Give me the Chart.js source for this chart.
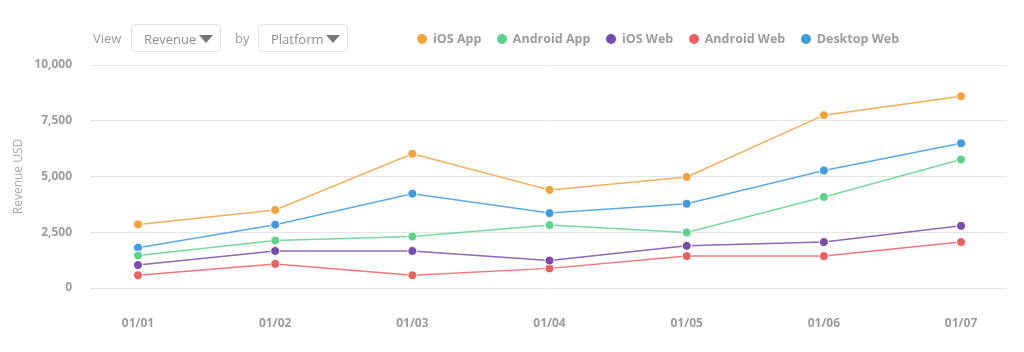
<!DOCTYPE html>
<html>
<head>
<meta charset="utf-8">
<script src="https://cdn.jsdelivr.net/npm/chart.js@4/dist/chart.umd.min.js"></script>
<style>
    html, body { margin: 0; padding: 0; background: #fff; }
    body { width: 1024px; height: 352px; position: relative; overflow: hidden; font-family: "Open Sans", sans-serif; }
    #wrap { position: absolute; left: 0; top: 0; width: 1024px; height: 352px; }
    .ctl { position: absolute; top: 24px; height: 28px; line-height: 28px; font-size: 13px; color: #9a9a9a; }
    .box { border: 1px solid #e3e3e3; border-radius: 4px; box-sizing: border-box; padding-left: 12px; color: #8e8e8e; }
    .box:after { content: ''; position: absolute; right: 7px; top: 10px; border-left: 7px solid transparent; border-right: 7px solid transparent; border-top: 8px solid #777; }
    #legend { position: absolute; top: 29px; left: 417px; font-size: 12.5px; font-weight: 700; color: #9c9c9c; white-space: nowrap; display: flex; }
    #legend span.item { display: flex; align-items: center; margin-right: 15.5px; line-height: 20px; }
    #legend i { display: inline-block; width: 10px; height: 10px; border-radius: 50%; margin-right: 6px; }
</style>
</head>
<body>
<div id="wrap"><canvas id="chart" width="1024" height="352"></canvas></div>
<div class="ctl" style="left:93px;">View</div>
<div class="ctl box" style="left:131px;width:90px;">Revenue</div>
<div class="ctl" style="left:235px;">by</div>
<div class="ctl box" style="left:258px;width:90px;">Platform</div>
<div id="legend"></div>
<script>
(function () {
    'use strict';

    var dates = ['01/01', '01/02', '01/03', '01/04', '01/05', '01/06', '01/07'];
    var seriesNames = ['iOS App', 'Android App', 'iOS Web', 'Android Web', 'Desktop Web'];
    var seriesColors = ['#f5a13c', '#5fd28a', '#7a4bae', '#ef5f5f', '#3d9be0'];

    var iosApp = [2850, 3500, 6020, 4400, 4980, 7750, 8600];
    var androidApp = [1460, 2130, 2310, 2820, 2490, 4080, 5760];
    var iosWeb = [1030, 1660, 1660, 1230, 1890, 2060, 2790];
    var androidWeb = [570, 1080, 570, 880, 1430, 1430, 2060];
    var desktopWeb = [1810, 2840, 4230, 3360, 3780, 5270, 6490];

    var yTicks = [0, 2500, 5000, 7500, 10000];

    var seriesValues = [iosApp, androidApp, iosWeb, androidWeb, desktopWeb];

    function hexAlpha(hex, a) {
        var n = parseInt(hex.slice(1), 16);
        return 'rgba(' + (n >> 16) + ',' + ((n >> 8) & 255) + ',' + (n & 255) + ',' + a + ')';
    }

    var datasets = seriesNames.map(function (name, s) {
        return {
            label: name,
            data: seriesValues[s].map(function (v, i) {
                return { x: i, y: v };
            }),
            borderColor: hexAlpha(seriesColors[s], 0.85),
            backgroundColor: seriesColors[s],
            borderWidth: 1.5,
            tension: 0,
            pointRadius: 4.5,
            pointBorderColor: '#ffffff',
            pointBorderWidth: 1,
            pointBackgroundColor: seriesColors[s],
            order: s === 4 ? 1 : 0
        };
    });

    var tickFont = { family: '"Open Sans", sans-serif', size: 12, weight: '700' };

    var chart = new Chart(document.getElementById('chart').getContext('2d'), {
        type: 'line',
        data: { datasets: datasets },
        options: {
            responsive: false,
            animation: false,
            layout: { padding: { top: 65, right: 17, left: 0, bottom: 0 } },
            plugins: {
                legend: { display: false },
                tooltip: { enabled: false }
            },
            scales: {
                x: {
                    type: 'linear',
                    min: -0.35,
                    max: 6.335,
                    afterBuildTicks: function (scale) {
                        scale.ticks = dates.map(function (d, i) { return { value: i }; });
                    },
                    afterFit: function (scale) { scale.height = 64; },
                    grid: { display: false, drawTicks: false },
                    border: { display: false },
                    ticks: {
                        padding: 28,
                        color: '#9b9b9b',
                        font: tickFont,
                        maxRotation: 0,
                        callback: function (v) { return dates[v]; }
                    }
                },
                y: {
                    min: 0,
                    max: 10000,
                    afterBuildTicks: function (scale) {
                        scale.ticks = yTicks.map(function (v) { return { value: v }; });
                    },
                    afterFit: function (scale) { scale.width = 90; },
                    grid: { color: '#e6e6e6', lineWidth: 1, drawTicks: false },
                    border: { display: false },
                    title: {
                        display: true,
                        text: 'Revenue USD',
                        color: '#a8a8a8',
                        font: { family: '"Open Sans", sans-serif', size: 12 },
                        padding: { top: 11, bottom: 0 }
                    },
                    ticks: {
                        padding: 18,
                        color: '#9b9b9b',
                        font: tickFont,
                        callback: function (v) { return v.toLocaleString('en-US'); }
                    }
                }
            }
        }
    });

    // legend built from the chart datasets
    var legend = document.getElementById('legend');
    chart.data.datasets.forEach(function (ds) {
        var item = document.createElement('span');
        item.className = 'item';
        item.innerHTML = '<i style="background:' + ds.backgroundColor + '"></i>' + ds.label;
        legend.appendChild(item);
    });
})();
</script>
</body>
</html>
